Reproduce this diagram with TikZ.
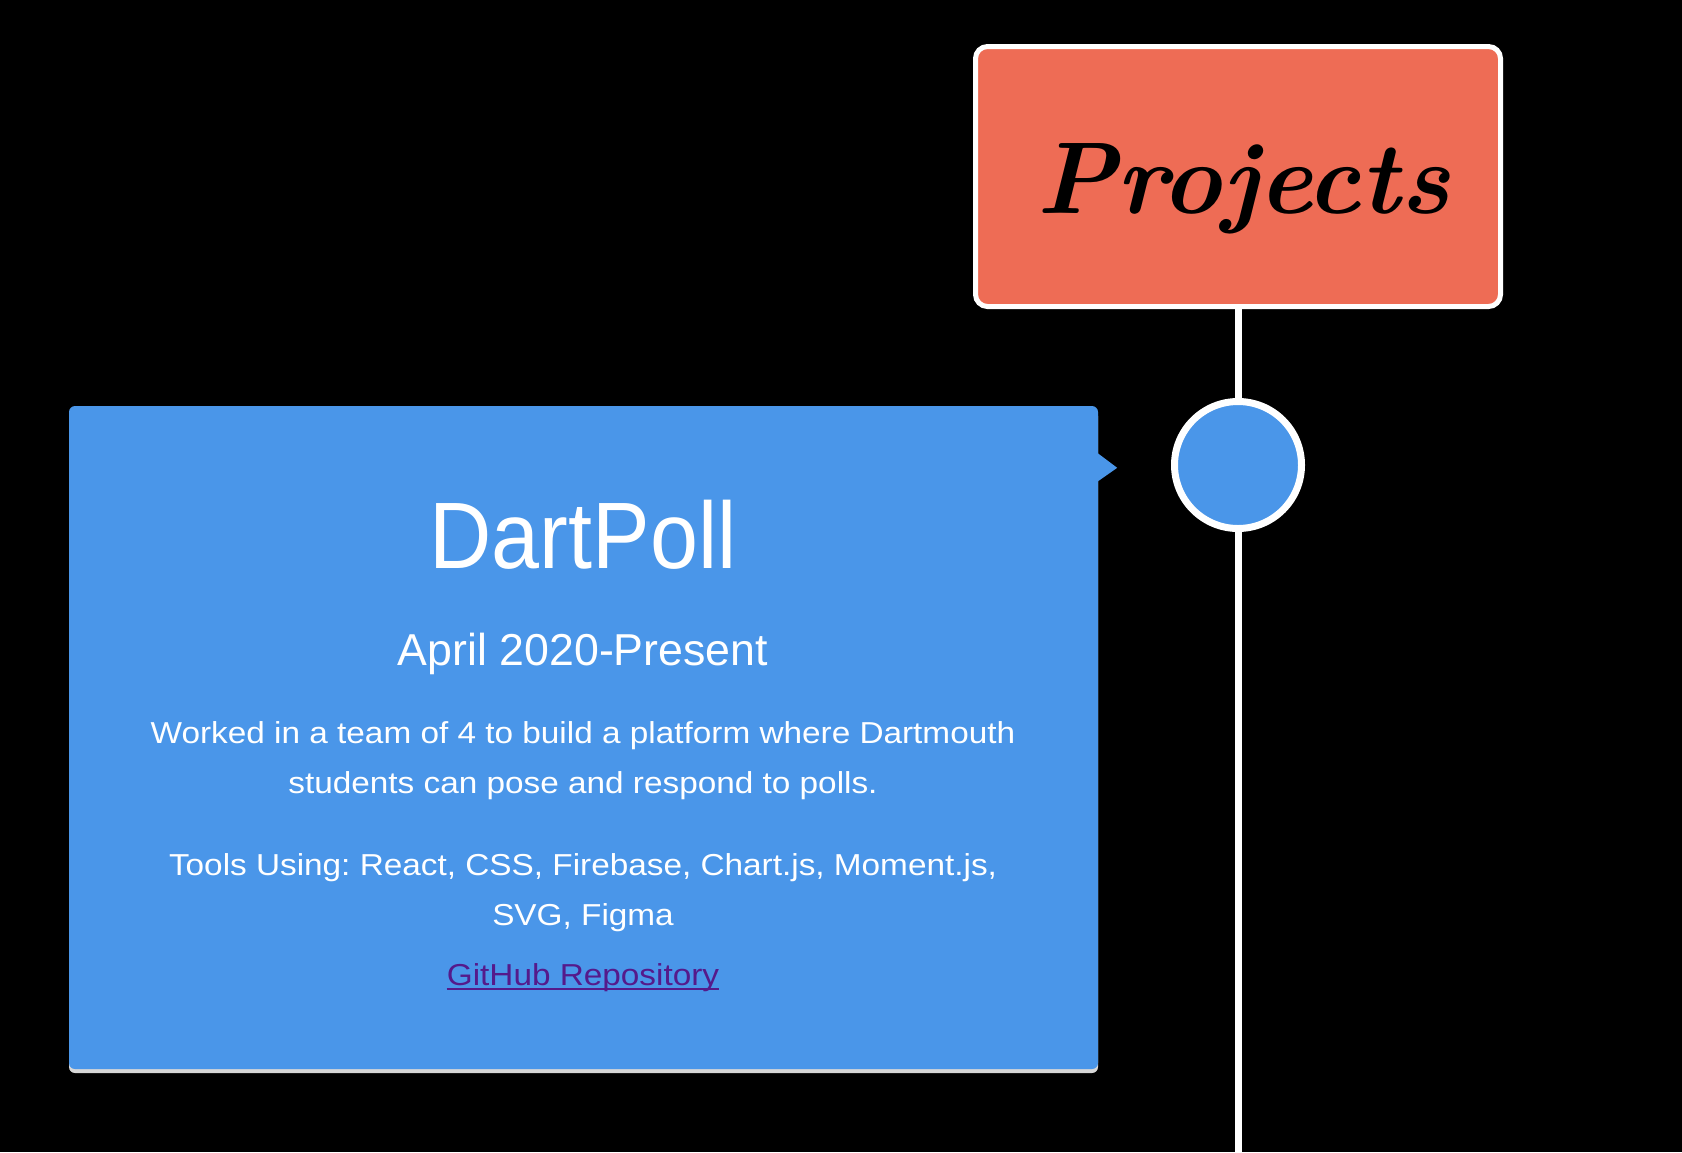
\documentclass[tikz,border=0pt]{standalone}
\usepackage{fontspec}
\usetikzlibrary{calc}
\newfontfamily\titlefont[FakeStretch=0.914]{Liberation Sans}
\newfontfamily\datefont{Liberation Sans}
\newfontfamily\bodyfont[FakeStretch=1.10]{Liberation Sans}
\definecolor{cardblue}{RGB}{74,150,233}
\definecolor{salmon}{RGB}{238,108,85}
\definecolor{linkpurple}{RGB}{85,26,139}
\definecolor{shadowgrey}{RGB}{215,215,215}
\tikzset{
  txt/.style={inner sep=0pt, anchor=base, text=white},
  bodytxt/.style={txt, font=\bodyfont\fontsize{30.3pt}{36pt}\selectfont},
  timeline/.style={draw=white, line width=7pt},
  headbox/.style={draw=white, line width=5pt, fill=salmon, rounded corners=12pt,
    minimum width=525pt, minimum height=260pt, inner sep=0pt},
  dot/.style={circle, draw=white, line width=7pt, fill=cardblue, minimum size=127pt, inner sep=0pt},
  card/.style={rectangle, fill=cardblue, rounded corners=6pt, minimum width=1029pt,
    minimum height=663pt, inner sep=0pt},
}
\begin{document}
\frenchspacing
\begin{tikzpicture}[x=1pt,y=-1pt]
\fill[black] (0,0) rectangle (1682,1152);
\useasboundingbox (0,0) rectangle (1682,1152);

% header box
\node[headbox] (head) at (1238,176.5) {};
\node[inner sep=0pt, anchor=base, text=black,
  font=\fontsize{102pt}{110pt}\selectfont\bfseries\itshape] (headtxt) at (1243,213) {Projects};

% timeline dot
\node[dot] (dot) at (1238,465) {};
\coordinate (bottom) at (1238,1152);
\draw[timeline] (head.south) -- (dot.north);
\draw[timeline] (dot.south) -- (bottom);

% card with shadow
\fill[shadowgrey, rounded corners=6pt] (69,410) rectangle (1098,1073);
\node[card] (card) at (583.5,737.5) {};
\fill[cardblue] ($(card.north east)+(-1,47)$) -- ($(card.north east)+(19,62)$)
  -- ($(card.north east)+(-1,76)$) -- cycle;

% texts
\node[txt, font=\titlefont\fontsize{94.4pt}{100pt}\selectfont] (title) at (583,568.3) {DartPoll};
\node[txt, font=\datefont\fontsize{44.7pt}{50pt}\selectfont] (date) at (583,665) {April 2020-Present};
\node[bodytxt] (d1) at (583,743.3) {Worked in a team of 4 to build a platform where Dartmouth};
\node[bodytxt] (d2) at (583,793.3) {students can pose and respond to polls.};
\node[bodytxt] (t1) at (583,875) {Tools Using: React, CSS, Firebase, Chart.js, Moment.js,};
\node[bodytxt] (t2) at (583,925) {SVG, Figma};
\node[bodytxt, text=linkpurple] (link) at (583,985) {GitHub Repository};
\draw[linkpurple, line width=2pt] ($(link.base west)+(0,3.5)$) -- ($(link.base east)+(0,3.5)$);
\end{tikzpicture}
\end{document}
